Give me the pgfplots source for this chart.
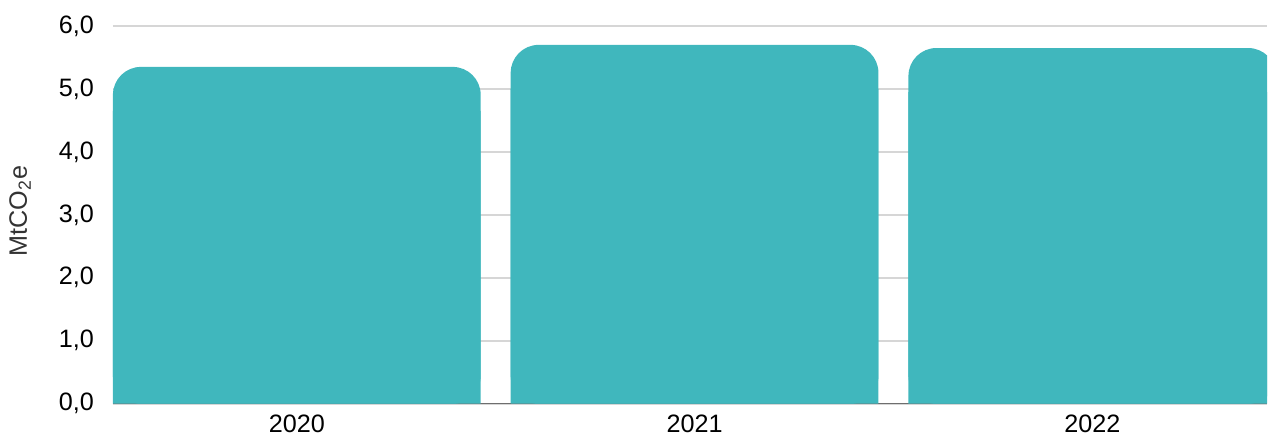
\documentclass[border=0pt]{standalone}
\usepackage{fontspec}
\setmainfont{Liberation Sans}
\usepackage{xcolor}
\usepackage{pgfplots}
\usepackage{pgfplotstable}
\pgfplotsset{compat=1.18}
\definecolor{cbar}{HTML}{40B7BD}
\definecolor{cgrid}{HTML}{D6D6D6}
\definecolor{cbase}{HTML}{6E6E6E}

\pgfplotstableread{
x v
0 5.35
1 5.70
2 5.65
}\emissions

\begin{document}
\begin{tikzpicture}
\begin{axis}[
    scale only axis,
    width=577.5pt, height=189pt,
    xmin=-0.4623, xmax=2.4397,
    ymin=0, ymax=6,
    xtick={0,1,2},
    xticklabels={2020,2021,2022},
    ytick={0,1,2,3,4,5,6},
    axis x line*=bottom,
    axis y line*=left,
    x axis line style={draw=cbase, line width=0.6pt},
    y axis line style={draw=none},
    tick style={draw=none},
    ymajorgrids,
    grid style={draw=cgrid, line width=0.8pt},
    tick label style={font=\fontsize{12.6}{15}\selectfont, text=black},
    yticklabel style={xshift=-6pt},
    xticklabel style={yshift=-2pt},
    /pgf/number format/.cd, fixed, fixed zerofill, precision=1, use comma, assume math mode=true,
    /pgfplots/.cd,
    ylabel={MtCO\textsubscript{2}e},
    ylabel style={at={(axis description cs:-0.0805,0.51)}, anchor=center,
        font=\fontsize{12.6}{15}\selectfont, text=black!80},
]
% rounded bars, then square-cornered bars of the same data to hide the lower rounding
\addplot[ybar, bar width=0.9246, bar shift=0, fill=cbar, draw=none,
    rounded corners=14pt] table[x=x, y=v] {\emissions};
\addplot[ybar, bar width=0.9246, bar shift=0, fill=cbar, draw=none]
    table[x=x, y expr=\thisrow{v}-0.7] {\emissions};
\end{axis}
\path (current axis.south west) ++(-56.5pt,-17pt) (current axis.north east) ++(0,13pt);
\end{tikzpicture}
\end{document}
